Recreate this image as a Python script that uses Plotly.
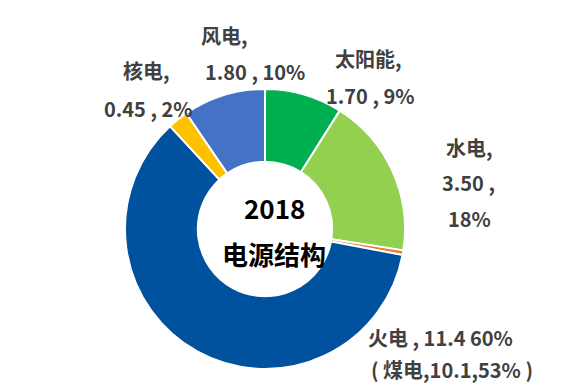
import plotly.graph_objects as go

categories = ["太阳能", "水电", "其他", "火电", "核电", "风电"]
values = [1.70, 3.50, 0.10, 11.4, 0.45, 1.80]
colors = ["#00B050", "#92D050", "#ED7D31", "#00519E", "#FFC000", "#4472C4"]

# label lines (text, x-center px, y-center px)
label_lines = ["风电,", "1.80 , 10%",
               "核电,", "0.45 , 2%",
               "太阳能,", "1.70 , 9%",
               "水电,", "3.50 ,", "18%",
               "火电 , 11.4 60%", "( 煤电,10.1,53% )"]
label_x = [216, 247, 138, 140, 360, 362, 461, 460, 461, 432, 444]
label_y = [28, 64, 62, 100, 50, 88, 139, 174, 210, 329, 361]
center_lines = ["2018", "电源结构"]
center_y = [199, 245]

W, H = 564, 384
cx, cy, r = 257, 221, 140

fig = go.Figure(go.Pie(
    labels=categories, values=values, hole=0.48, sort=False,
    direction="clockwise", rotation=0,
    marker=dict(colors=colors, line=dict(color="white", width=2)),
    textinfo="none", showlegend=False,
    domain=dict(x=[(cx - r) / W, (cx + r) / W], y=[1 - (cy + r) / H, 1 - (cy - r) / H]),
))

font = "Noto Sans CJK SC, Noto Sans, sans-serif"
for t, x, y in zip(label_lines, label_x, label_y):
    fig.add_annotation(x=x / W, y=1 - y / H, xref="paper", yref="paper", text=t,
                       showarrow=False, align="center",
                       font=dict(family=font, size=20, color="#404040", weight="bold"),
                       yanchor="middle", xanchor="center")
for t, y in zip(center_lines, center_y):
    fig.add_annotation(x=266 / W, y=1 - y / H, xref="paper", yref="paper", text=t,
                       showarrow=False, align="center",
                       font=dict(family=font, size=26, color="#000000", weight="bold"),
                       xanchor="center", yanchor="middle")

fig.update_layout(width=W, height=H, margin=dict(l=0, r=0, t=0, b=0),
                  paper_bgcolor="white", plot_bgcolor="white")
fig.write_html("out.html")
